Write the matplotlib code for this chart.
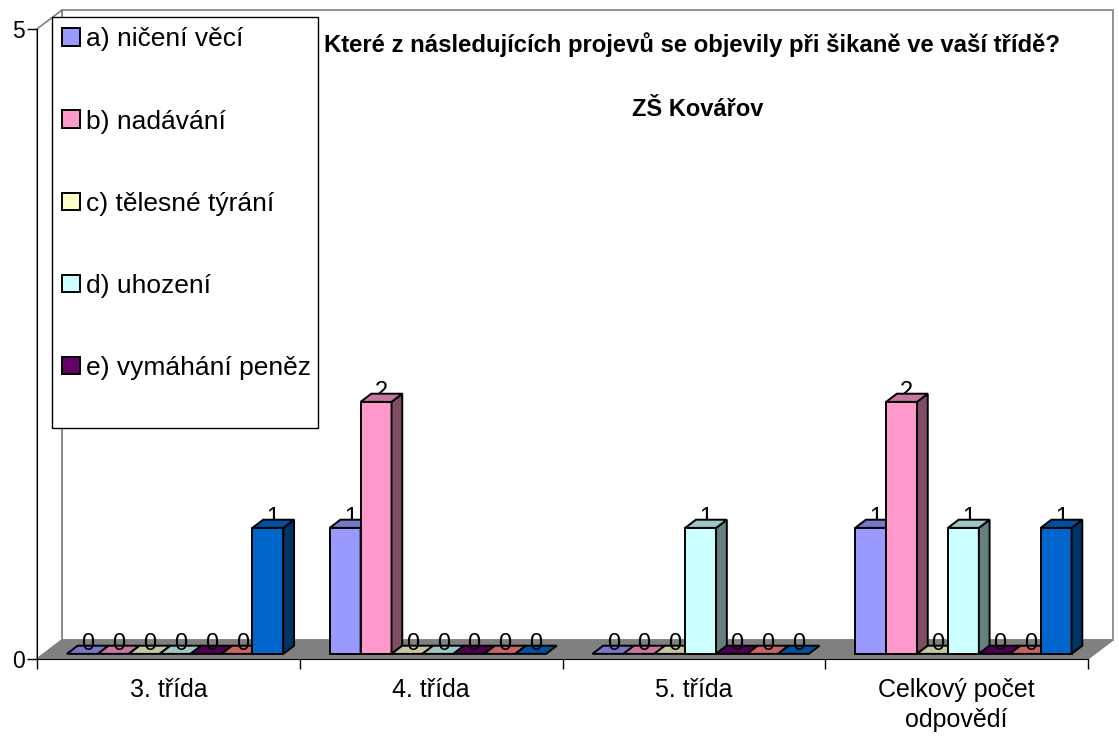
import matplotlib
matplotlib.use('Agg')
import matplotlib.pyplot as plt
from matplotlib.patches import Polygon, Rectangle, Patch
import numpy as np

plt.rcParams['font.family'] = ['Liberation Sans', 'DejaVu Sans']

# ---------------- data ----------------
categories = ['3. třída', '4. třída', '5. třída', 'Celkový počet\nodpovědí']
series_names = ['a) ničení věcí', 'b) nadávání', 'c) tělesné týrání', 'd) uhození',
                'e) vymáhání peněz', 'f)', 'g)']
a_vals = [0, 1, 0, 1]
b_vals = [0, 2, 0, 2]
c_vals = [0, 0, 0, 0]
d_vals = [0, 0, 1, 1]
e_vals = [0, 0, 0, 0]
f_vals = [0, 0, 0, 0]
g_vals = [1, 0, 0, 1]
series_values = [a_vals, b_vals, c_vals, d_vals, e_vals, f_vals, g_vals]
colors = ['#9999FF', '#FF99CC', '#FFFFCC', '#CCFFFF', '#660066', '#FF8080', '#0066CC']
legend_shown = 5
title = 'Které z následujících projevů se objevily při šikaně ve vaší třídě?'
subtitle = 'ZŠ Kovářov'
y_ticks = [0, 5]

# ---------------- layout ----------------
W, H = 1119, 738
fig = plt.figure(figsize=(W / 100, H / 100), dpi=100)
x0_px, x1_px = 37, 1088
yb_px, yt_px = 659, 29
ax = fig.add_axes([x0_px / W, (H - yb_px) / H, (x1_px - x0_px) / W, (yb_px - yt_px) / H])
ncat = len(categories)
nser = len(series_values)
ax.set_xlim(-0.5, ncat - 0.5)
ax.set_ylim(0, 5)

px_per_cat = (x1_px - x0_px) / ncat
px_per_unit = (yb_px - yt_px) / 5.0
ddx = 25 / px_per_cat      # depth offset in data units
ddy = 19 / px_per_unit
f0, f1 = 0.27, 0.70        # bar depth fractions


def shade(c, k):
    r, g, b = matplotlib.colors.to_rgb(c)
    return (r * k, g * k, b * k)


# walls and floor
wall_col = '#808080'
ax.add_patch(Polygon([(-0.5 + ddx, ddy), (ncat - 0.5 + ddx, ddy),
                      (ncat - 0.5 + ddx, 5 + ddy), (-0.5 + ddx, 5 + ddy)],
                     closed=True, facecolor='white', edgecolor=wall_col, lw=1.2,
                     clip_on=False, zorder=1))
ax.add_patch(Polygon([(-0.5, 0), (-0.5 + ddx, ddy), (-0.5 + ddx, 5 + ddy), (-0.5, 5)],
                     closed=True, facecolor='white', edgecolor=wall_col, lw=1.2,
                     clip_on=False, zorder=1))
ax.add_patch(Polygon([(-0.5, 0), (ncat - 0.5, 0), (ncat - 0.5 + ddx, ddy), (-0.5 + ddx, ddy)],
                     closed=True, facecolor='#808080', edgecolor='#808080', lw=1.0,
                     clip_on=False, zorder=2))

# bars
w = 1 / 8.5
group = w * nser
edge_lw = 1.4
for i in range(ncat):
    for j in range(nser):
        v = series_values[j][i]
        col = colors[j]
        xl = i - group / 2 + j * w
        xr = xl + w
        ox0, oy0 = f0 * ddx, f0 * ddy
        ox1, oy1 = f1 * ddx, f1 * ddy
        z = 10 + i * 20 + j * 3
        if v > 0:
            ax.bar(xl + ox0, v, width=w, bottom=oy0, align='edge', color=col,
                   edgecolor='black', linewidth=edge_lw, zorder=z + 1, clip_on=False)
            ax.add_patch(Polygon([(xr + ox0, oy0), (xr + ox1, oy1), (xr + ox1, v + oy1), (xr + ox0, v + oy0)],
                                 closed=True, facecolor=shade(col, 0.5), edgecolor='black',
                                 lw=edge_lw, zorder=z + 1, clip_on=False))
        ax.add_patch(Polygon([(xl + ox0, v + oy0), (xr + ox0, v + oy0), (xr + ox1, v + oy1), (xl + ox1, v + oy1)],
                             closed=True, facecolor=shade(col, 0.78), edgecolor='black',
                             lw=edge_lw, zorder=z + 1, clip_on=False))
        ax.text((xl + xr) / 2 + (f0 + f1) / 2 * ddx, v + oy1 + 0.01, str(v), ha='center', va='center',
                fontsize=17, color='black', zorder=(z if v > 0 else z + 2), clip_on=False)

# axes
for s in ['top', 'right']:
    ax.spines[s].set_visible(False)
ax.spines['left'].set_color('black')
ax.spines['bottom'].set_color('black')
ax.spines['left'].set_zorder(3)
ax.spines['bottom'].set_zorder(3)
ax.set_yticks(y_ticks)
ax.set_yticklabels([str(t) for t in y_ticks], fontsize=16.5)
ax.tick_params(axis='y', length=7, width=1, pad=1.5, direction='out')
ax.set_xticks(np.arange(-0.5, ncat, 1.0))
ax.set_xticklabels([])
ax.tick_params(axis='x', which='major', length=7, width=1, direction='out')
ax.set_xticks(np.arange(ncat), minor=True)
ax.set_xticklabels(categories, minor=True, fontsize=18, linespacing=1.3)
ax.tick_params(axis='x', which='minor', length=0, pad=14)
ax.patch.set_visible(False)

# titles
fig.text(692 / W, 1 - 45 / H, title, ha='center', va='center', fontsize=17.2, fontweight='bold')
fig.text(698 / W, 1 - 110 / H, subtitle, ha='center', va='center', fontsize=17, fontweight='bold')

# legend box
fig.patches.append(Rectangle((52 / W, (H - 428) / H), 266 / W, 411 / H, transform=fig.transFigure,
                             facecolor='white', edgecolor='black', lw=1.0, zorder=4))
handles = [Patch(facecolor=colors[k], edgecolor='black', lw=1.4) for k in range(legend_shown)]
leg = fig.legend(handles, series_names[:legend_shown], loc='upper left',
                 bbox_to_anchor=(44 / W, 1 - 9 / H), frameon=False, fontsize=19,
                 handlelength=0.65, handleheight=0.65, handletextpad=0.25, labelspacing=2.2,
                 borderpad=0.2)
leg.set_zorder(5)

fig.savefig('out.png', dpi=100)
